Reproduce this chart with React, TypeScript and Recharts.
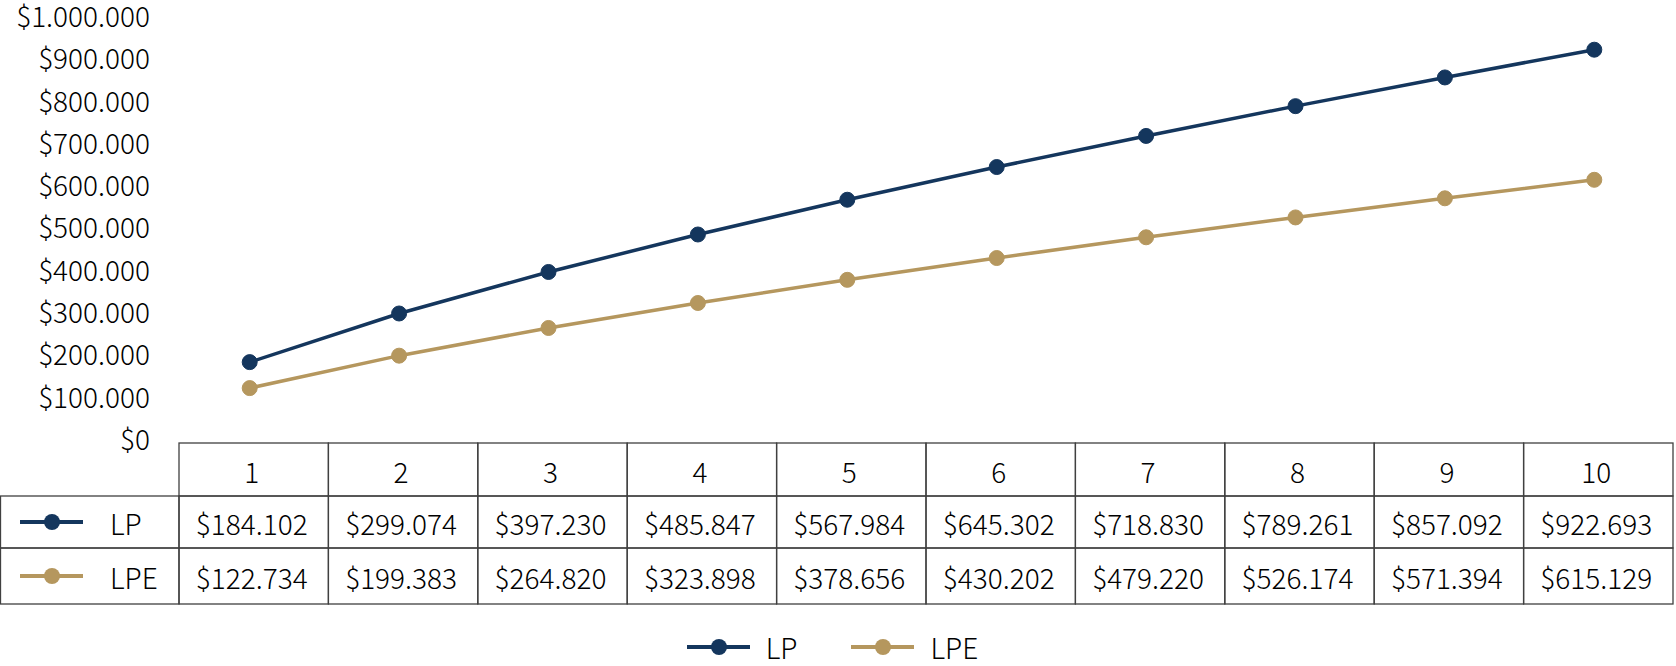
import React from "react";
import { LineChart, Line, XAxis, YAxis, Legend } from "recharts";

const categories = ["1", "2", "3", "4", "5", "6", "7", "8", "9", "10"];
const lpValues = [184102, 299074, 397230, 485847, 567984, 645302, 718830, 789261, 857092, 922693];
const lpeValues = [122734, 199383, 264820, 323898, 378656, 430202, 479220, 526174, 571394, 615129];
const yTicks = [0, 100000, 200000, 300000, 400000, 500000, 600000, 700000, 800000, 900000, 1000000];

const series = [
  { key: "LP", color: "#14365D", values: lpValues },
  { key: "LPE", color: "#B5975E", values: lpeValues },
];

const data = categories.map((c, i) => ({
  name: c,
  LP: lpValues[i],
  LPE: lpeValues[i],
}));

// layout
const W = 1676;
const H = 666;
const PLOT_LEFT = 179;
const PLOT_RIGHT = 1673;
const PLOT_TOP = 17;
const PLOT_BOTTOM = 440;
const PLOT_W = PLOT_RIGHT - PLOT_LEFT;
const COL_W = PLOT_W / categories.length;
const POINT_SHIFT = 4; // markers sit a little left of the column centres
const ROW_H = [53, 52, 56];
const TABLE_H = ROW_H[0] + ROW_H[1] + ROW_H[2];
const LEGEND_H = 62;
const TABLE_TOP = H - LEGEND_H - TABLE_H;
const FONT = "'Noto Sans CJK SC', 'Noto Sans', sans-serif";
const FS = 28;
const FW = 300;
const BORDER = "#404040";

const money = (v: number) => "$" + String(v).replace(/\B(?=(\d{3})+(?!\d))/g, ".");

function SeriesGlyph({ cx, cy, color }: { cx: number; cy: number; color: string }) {
  return (
    <g>
      <line x1={cx - 32} x2={cx + 31} y1={cy} y2={cy} stroke={color} strokeWidth={4} />
      <circle cx={cx} cy={cy} r={8} fill={color} />
    </g>
  );
}

// the x axis is drawn as a data table: one column per category
function TableTick(props: any) {
  const { x, payload } = props;
  const i = categories.indexOf(String(payload.value));
  const cx = x + POINT_SHIFT;
  const x0 = cx - COL_W / 2;
  const rowsY = [TABLE_TOP, TABLE_TOP + ROW_H[0], TABLE_TOP + ROW_H[0] + ROW_H[1]];
  const texts = [categories[i], money(lpValues[i]), money(lpeValues[i])];
  return (
    <g>
      {rowsY.map((ry, r) => (
        <g key={r}>
          <rect x={x0} y={ry} width={COL_W} height={ROW_H[r]} fill="none" stroke={BORDER} strokeWidth={1.3} />
          <text
            x={cx - 2}
            y={ry + ROW_H[r] / 2 + 1}
            textAnchor="middle"
            dominantBaseline="central"
            fontSize={FS}
            fontWeight={FW}
            fontFamily={FONT}
            fill="#000"
          >
            {texts[r]}
          </text>
        </g>
      ))}
      {i === 0 &&
        series.map((s, r) => {
          const ry = rowsY[r + 1];
          return (
            <g key={s.key}>
              <rect x={0.5} y={ry} width={PLOT_LEFT - 0.5} height={ROW_H[r + 1]} fill="none" stroke={BORDER} strokeWidth={1.3} />
              <SeriesGlyph cx={52} cy={ry + ROW_H[r + 1] / 2} color={s.color} />
              <text
                x={110}
                y={ry + ROW_H[r + 1] / 2 + 1}
                dominantBaseline="central"
                fontSize={FS}
                fontWeight={FW}
                fontFamily={FONT}
                fill="#000"
              >
                {s.key}
              </text>
            </g>
          );
        })}
    </g>
  );
}

function LegendContent() {
  return (
    <div
      style={{
        height: LEGEND_H,
        display: "flex",
        justifyContent: "center",
        alignItems: "center",
        paddingTop: 24,
        paddingRight: 16,
        boxSizing: "border-box",
        gap: 46,
        fontFamily: FONT,
        fontSize: FS,
        fontWeight: FW,
      }}
    >
      {series.map((s) => (
        <div key={s.key} style={{ display: "flex", alignItems: "center", gap: 9 }}>
          <svg width={78} height={20}>
            <SeriesGlyph cx={40} cy={10} color={s.color} />
          </svg>
          <span style={{ color: "#000", lineHeight: 1 }}>{s.key}</span>
        </div>
      ))}
    </div>
  );
}

export default function App() {
  return (
    <div style={{ position: "absolute", left: 0, top: 0, width: W, height: H, background: "#fff" }}>
      <LineChart width={W} height={H} data={data} margin={{ top: PLOT_TOP, right: W - PLOT_RIGHT, bottom: 0, left: 0 }}>
        <XAxis
          dataKey="name"
          height={H - LEGEND_H - PLOT_BOTTOM}
          axisLine={false}
          tickLine={false}
          tickSize={0}
          tickMargin={0}
          interval={0}
          padding={{ left: COL_W / 2 - POINT_SHIFT, right: COL_W / 2 + POINT_SHIFT }}
          tick={<TableTick />}
        />
        <YAxis
          width={PLOT_LEFT}
          domain={[0, 1000000]}
          ticks={yTicks}
          interval={0}
          axisLine={false}
          tickLine={false}
          tickSize={0}
          tickMargin={29}
          tickFormatter={money}
          tick={{ fontSize: FS, fontWeight: FW, fontFamily: FONT, fill: "#000" }}
        />
        <Legend verticalAlign="bottom" height={LEGEND_H} content={<LegendContent />} />
        {series.map((s) => (
          <Line
            key={s.key}
            dataKey={s.key}
            stroke={s.color}
            strokeWidth={3.5}
            dot={{ r: 7.5, fill: s.color, stroke: s.color, strokeWidth: 1 }}
            activeDot={false}
            isAnimationActive={false}
          />
        ))}
      </LineChart>
    </div>
  );
}
